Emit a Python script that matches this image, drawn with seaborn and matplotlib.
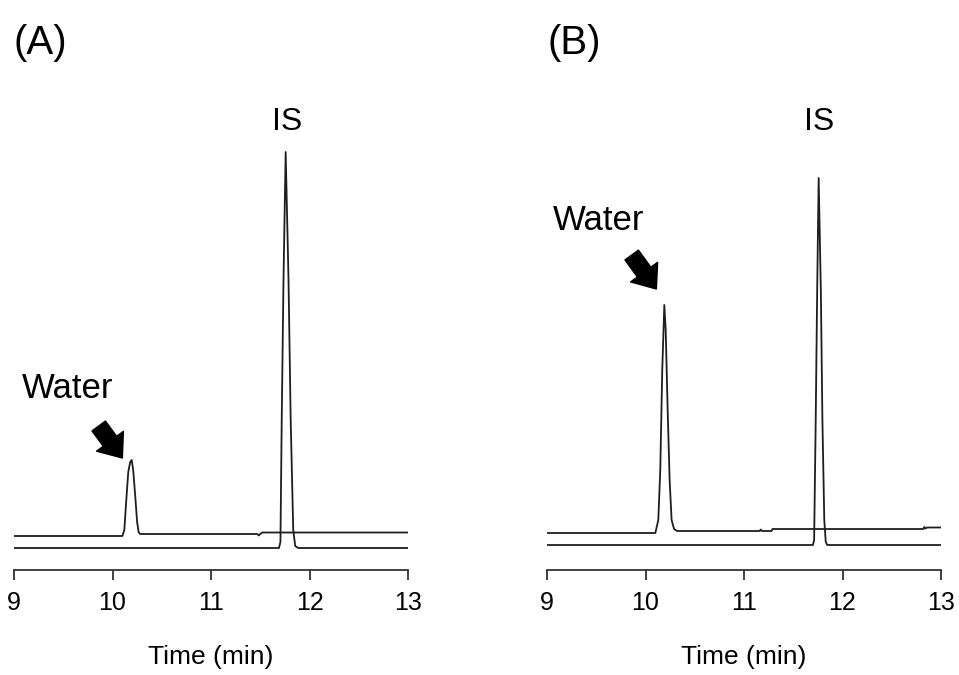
import seaborn as sns
import pandas as pd
from matplotlib import pyplot as plt

# chromatogram traces (time in min, signal in arbitrary units)
a_water_t = [9.0, 10.10, 10.12, 10.14, 10.16, 10.18, 10.195, 10.21, 10.23, 10.25, 10.265,
             10.28, 11.47, 11.485, 11.50, 11.52, 13.0]
a_water_y = [34, 34, 40, 70, 98, 108, 110, 100, 75, 48, 38, 36, 36, 34.5, 36, 37.5, 37.5]
a_is_t = [9.0, 11.69, 11.705, 11.718, 11.736, 11.758, 11.787, 11.809, 11.835, 11.855, 11.885, 13.0]
a_is_y = [22, 22, 28, 150, 290, 418, 290, 150, 40, 24, 22, 22]

b_water_t = [9.0, 10.10, 10.13, 10.15, 10.17, 10.191, 10.205, 10.225, 10.245, 10.265, 10.29,
             10.32, 11.16, 11.17, 11.18, 11.28, 11.29, 12.82, 12.83, 12.84, 12.86, 13.0]
b_water_y = [37, 37, 50, 100, 200, 265, 240, 160, 90, 50, 41, 39, 39, 40.5, 39, 39, 41, 41, 43,
             41.5, 42.5, 42.5]
b_is_t = [9.0, 11.70, 11.712, 11.728, 11.743, 11.758, 11.78, 11.796, 11.815, 11.83, 11.845, 13.0]
b_is_y = [25, 25, 30, 150, 280, 392, 280, 150, 50, 28, 25, 25]

x_ticks = [9, 10, 11, 12, 13]

# label positions (time, signal)
panels = [
    dict(tag="(A)", water_t=a_water_t, water_y=a_water_y, is_t=a_is_t, is_y=a_is_y,
         water_lbl=(9.548, 182), arrow_tail=(9.86, 144), arrow_tip=(10.10, 112), is_lbl=(11.772, 448)),
    dict(tag="(B)", water_t=b_water_t, water_y=b_water_y, is_t=b_is_t, is_y=b_is_y,
         water_lbl=(9.519, 350), arrow_tail=(9.86, 315), arrow_tip=(10.11, 281), is_lbl=(11.758, 448)),
]


def main():
    sns.set_theme(style="white")
    plt.rcParams["font.family"] = ["Liberation Sans", "DejaVu Sans"]
    plt.rcParams["text.color"] = "black"
    plt.rcParams["xtick.color"] = "black"
    plt.rcParams["axes.labelcolor"] = "black"

    fig = plt.figure(figsize=(9.59, 6.75), dpi=100)
    lefts = [14 / 959, 547 / 959]
    width = 394 / 959
    for p, left in zip(panels, lefts):
        ax = fig.add_axes([left, 1 - 570 / 675, width, 470 / 675])
        df = pd.concat([
            pd.DataFrame({"Time": p["water_t"], "Signal": p["water_y"], "trace": "water"}),
            pd.DataFrame({"Time": p["is_t"], "Signal": p["is_y"], "trace": "IS"}),
        ])
        sns.lineplot(data=df, x="Time", y="Signal", units="trace", estimator=None,
                     sort=False, color="#1e1e1e", linewidth=1.3, ax=ax)
        ax.set_xlim(9, 13)
        ax.set_ylim(0, 470)
        ax.set_xticks(x_ticks)
        ax.set_xticklabels([str(t) for t in x_ticks], fontsize=18)
        ax.set_yticks([])
        ax.set_ylabel("")
        ax.set_xlabel("Time (min)", fontsize=19, labelpad=22)
        for s in ["top", "right", "left"]:
            ax.spines[s].set_visible(False)
        ax.spines["bottom"].set_color("#333333")
        ax.spines["bottom"].set_linewidth(1.3)
        ax.tick_params(axis="x", bottom=True, direction="out", length=7, width=1.3,
                       color="#333333", pad=8)

        ax.text(*p["water_lbl"], "Water", fontsize=25, ha="center", va="center")
        ax.text(*p["is_lbl"], "IS", fontsize=23, ha="center", va="center")
        ax.annotate("", xy=p["arrow_tip"], xytext=p["arrow_tail"],
                    arrowprops=dict(arrowstyle="simple,head_width=1.6,head_length=1.0,tail_width=0.8",
                                    color="black", shrinkA=0, shrinkB=0, mutation_scale=15))
        fig.text(left, 1 - 43 / 675, p["tag"], fontsize=29, ha="left", va="center")

    plt.savefig("out.png", dpi=100)


if __name__ == "__main__":
    main()
